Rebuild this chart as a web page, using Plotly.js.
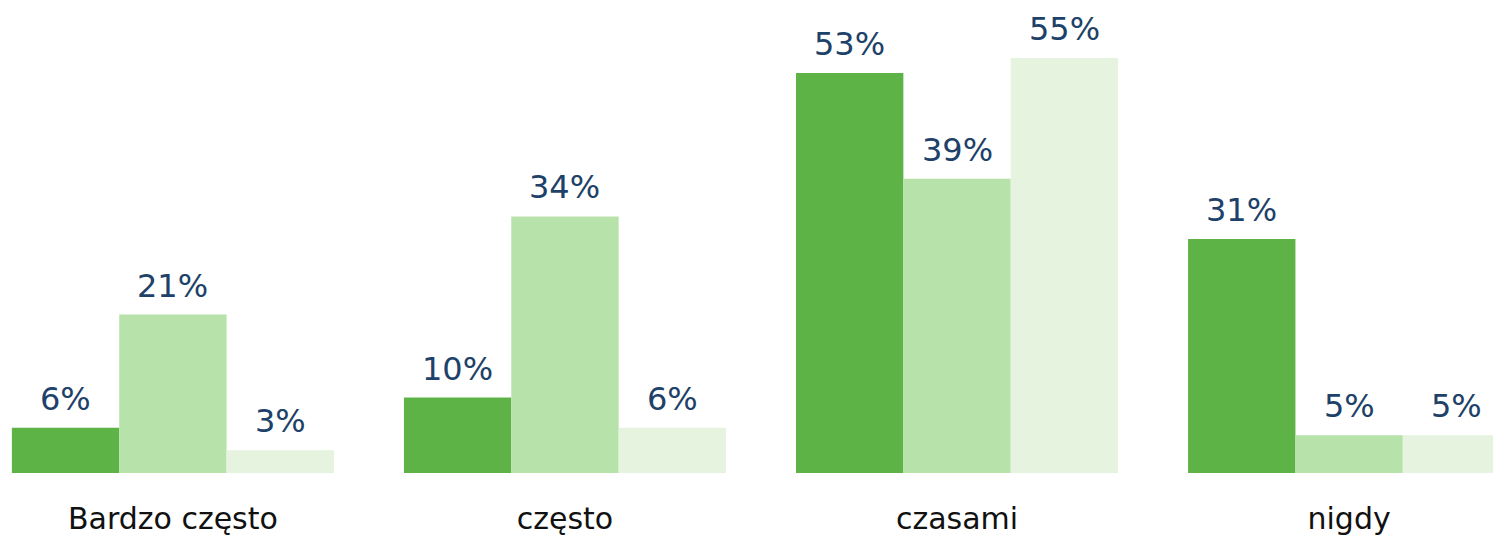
<!DOCTYPE html>
<html>
<head>
<meta charset="utf-8">
<script src="https://cdn.plot.ly/plotly-3.0.1.min.js"></script>
<style>html,body{margin:0;padding:0;background:#fff;}#chart{width:1493px;height:538px;}</style>
</head>
<body>
<div id="chart"></div>
<script>
const categories = ["Bardzo często", "często", "czasami", "nigdy"];
const series1 = [6, 10, 53, 31];
const series2 = [21, 34, 39, 5];
const series3 = [3, 6, 55, 5];
const seriesNames = ["Seria 1", "Seria 2", "Seria 3"];
const colors = ["#5db346", "#b7e2a9", "#e5f3df"];

const allSeries = [series1, series2, series3];
const traces = allSeries.map((vals, i) => ({
  type: "bar",
  name: seriesNames[i],
  x: categories,
  y: vals,
  marker: {color: colors[i], line: {width: 0}},
  hoverinfo: "none"
}));

const barPx = 107.3;
const annotations = [];
allSeries.forEach((vals, i) => {
  vals.forEach((v, j) => {
    annotations.push({
      xref: "x", yref: "y",
      x: categories[j], y: v,
      text: v + "%",
      showarrow: false,
      xanchor: "center", yanchor: "bottom",
      xshift: (i - 1) * barPx,
      yshift: 8,
      font: {family: "DejaVu Sans", size: 32, color: "#1d4168"}
    });
  });
});

const layout = {
  width: 1493,
  height: 538,
  margin: {l: 0, r: 0, t: 0, b: 65},
  paper_bgcolor: "#ffffff",
  plot_bgcolor: "#ffffff",
  showlegend: false,
  barmode: "group",
  bargap: 0.1786,
  bargroupgap: 0,
  annotations: annotations,
  xaxis: {
    range: [-0.441, 3.367],
    showgrid: false,
    zeroline: false,
    showline: false,
    ticks: "",
    ticklabelstandoff: 25,
    tickfont: {family: "DejaVu Sans", size: 30, color: "#111111"},
    fixedrange: true
  },
  yaxis: {
    range: [0, 62.69],
    visible: false,
    showgrid: false,
    zeroline: false,
    fixedrange: true
  }
};

Plotly.newPlot("chart", traces, layout, {displayModeBar: false, staticPlot: true});
</script>
</body>
</html>
